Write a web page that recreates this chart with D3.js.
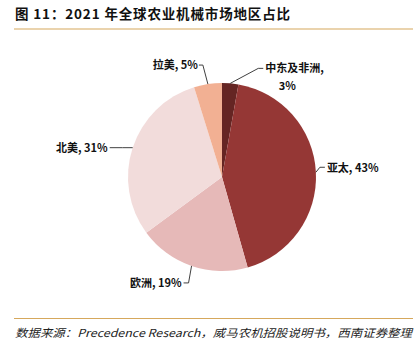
<!DOCTYPE html>
<html><head><meta charset="utf-8">
<script src="https://cdn.jsdelivr.net/npm/d3@7"></script>
<style>body{margin:0;background:#fff}svg{display:block}</style>
</head><body>
<svg id="c" width="417" height="355"></svg>
<script>
const categories = ["中东及非洲", "亚太", "欧洲", "北美", "拉美"];
const values = [2.8, 42.8, 19.3, 30.3, 4.8];
const pctLabels = ["3%", "43%", "19%", "31%", "5%"];
const colors = ["#652523", "#953735", "#e6b9b8", "#f2dcdb", "#f2b093"];
const title = "图 11：2021 年全球农业机械市场地区占比";
const source = "数据来源：Precedence Research，威马农机招股说明书，西南证券整理";

const svg = d3.select("#c");
const cx = 222, cy = 177, R = 94;
const font = "'Noto Sans CJK SC','Noto Sans',sans-serif";

svg.append("text").attr("x", 15).attr("y", 19).attr("font-family", font)
  .attr("font-size", 13.5).attr("font-weight", "bold").attr("fill", "#111")
  .attr("textLength", 275).attr("lengthAdjust", "spacing").text(title);
svg.append("line").attr("x1", 14).attr("x2", 413).attr("y1", 29).attr("y2", 29)
  .attr("stroke", "#d6a85c").attr("stroke-width", 1.2);
svg.append("line").attr("x1", 14).attr("x2", 413).attr("y1", 318.5).attr("y2", 318.5)
  .attr("stroke", "#d6a85c").attr("stroke-width", 1.2);
svg.append("text").attr("x", 15).attr("y", 337).attr("font-family", font)
  .attr("font-size", 11).attr("font-style", "italic").attr("fill", "#222")
  .attr("textLength", 397).attr("lengthAdjust", "spacingAndGlyphs").text(source);

const pie = d3.pie().sort(null).value(d => d);
const arcs = pie(values);
const arc = d3.arc().innerRadius(0).outerRadius(R);
const g = svg.append("g").attr("transform", `translate(${cx},${cy})`);
g.selectAll("path").data(arcs).join("path").attr("d", arc)
  .attr("fill", (d, i) => colors[i]);

// leader line knees/ends as offsets from slice edge point
const leaders = [
  {knee: [28, -15], end: [33, -15], anchor: "start", dx: 2, dy: 4},
  {knee: [4, -5], end: [9, -5], anchor: "start", dx: 2, dy: 5},
  {knee: [-3, 17], end: [-8, 17], anchor: "end", dx: -2, dy: 4},
  {knee: [-10, 0], end: [-23, 0], anchor: "end", dx: -2, dy: 4},
  {knee: [-5, -19], end: [-9, -19], anchor: "end", dx: -1, dy: 4}
];
const edge = d3.arc().innerRadius(R).outerRadius(R);
arcs.forEach((a, i) => {
  const p = edge.centroid(a);
  const L = leaders[i];
  const k = [p[0] + L.knee[0], p[1] + L.knee[1]];
  const e = [p[0] + L.end[0], p[1] + L.end[1]];
  g.append("path").attr("d", d3.line()([p, k, e]))
    .attr("fill", "none").attr("stroke", "#404040").attr("stroke-width", 1);
  const t = g.append("text").attr("font-family", font).attr("font-size", 11)
    .attr("font-weight", "bold").attr("fill", "#111").attr("text-anchor", L.anchor);
  if (i === 0) {
    t.attr("x", e[0] + L.dx).attr("y", e[1] + L.dy).text(categories[i] + ",");
    g.append("text").attr("font-family", font).attr("font-size", 11)
      .attr("font-weight", "bold").attr("fill", "#111").attr("text-anchor", "middle")
      .attr("x", e[0] + 24).attr("y", e[1] + L.dy + 18).text(pctLabels[i]);
  } else {
    t.attr("x", e[0] + L.dx).attr("y", e[1] + L.dy).text(categories[i] + ", " + pctLabels[i]);
  }
});
</script>
</body></html>
